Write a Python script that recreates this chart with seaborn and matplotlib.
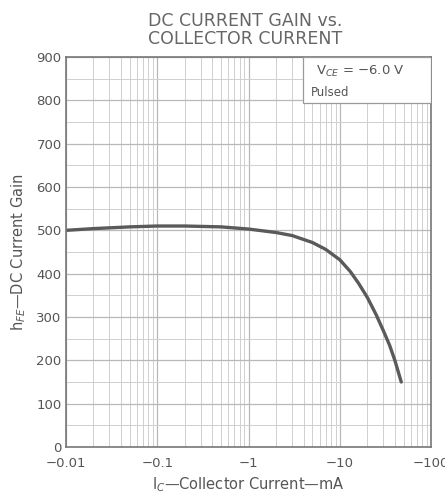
import numpy as np
import pandas as pd
import matplotlib
matplotlib.use("Agg")
import matplotlib.pyplot as plt
from matplotlib.patches import Rectangle
from matplotlib.ticker import LogLocator, FixedLocator, NullFormatter
import seaborn as sns

# values
ic_ma = [0.01, 0.02, 0.05, 0.1, 0.2, 0.5, 1, 2, 3, 5, 7, 10, 13, 16, 20, 25, 30, 35, 40, 47]
hfe = [500, 504, 508, 510, 510, 508, 503, 495, 488, 472, 456, 432, 405, 378, 345, 305, 268, 235, 200, 150]

x_ticks = [0.01, 0.1, 1, 10, 100]
x_labels = ["\u22120.01", "\u22120.1", "\u22121", "\u221210", "\u2212100"]
y_ticks = list(range(0, 1000, 100))

df = pd.DataFrame({"ic": ic_ma, "hfe": hfe})

sns.set_style("white")
plt.rcParams["font.family"] = ["DejaVu Sans"]
txt = "#555555"

fig = plt.figure(figsize=(4.45, 4.98), dpi=100)
ax = fig.add_axes([0.148, 0.1024, 0.821, 0.7831])

sns.lineplot(data=df, x="ic", y="hfe", ax=ax, color="#5a5a5a", linewidth=2.4)

ax.set_xscale("log")
ax.set_xlim(0.01, 100)
ax.set_ylim(0, 900)

ax.xaxis.set_major_locator(FixedLocator(x_ticks))
ax.set_xticklabels(x_labels)
ax.xaxis.set_minor_locator(LogLocator(base=10, subs=np.arange(2, 10)))
ax.xaxis.set_minor_formatter(NullFormatter())
ax.set_yticks(y_ticks)
ax.set_yticks(list(range(50, 900, 100)), minor=True)

ax.grid(which="major", color="#b8b8b8", linewidth=0.9)
ax.grid(which="minor", color="#cfcfcf", linewidth=0.7)
ax.tick_params(which="both", length=0, colors=txt, labelsize=9.5)
ax.tick_params(axis="x", pad=7)
ax.tick_params(axis="y", pad=3)
for s in ax.spines.values():
    s.set_color("#777777")
    s.set_linewidth(1.2)

ax.set_xlabel("I$_C$\u2014Collector Current\u2014mA", color=txt, fontsize=10.5, labelpad=4)
ax.set_ylabel("h$_{FE}$\u2014DC Current Gain", color=txt, fontsize=10.5, labelpad=6)

# condition box in the top-right corner
ax.add_patch(Rectangle((0.649, 0.882), 0.351, 0.118, transform=ax.transAxes,
                       facecolor="white", edgecolor="#999999", linewidth=0.9, zorder=3))
ax.text(0.685, 0.962, "V$_{CE}$ = \u22126.0 V", transform=ax.transAxes,
        ha="left", va="center", fontsize=9.5, color=txt, zorder=4)
ax.text(0.672, 0.91, "Pulsed", transform=ax.transAxes,
        ha="left", va="center", fontsize=8.5, color=txt, zorder=4)

fig.text(0.55, 0.975, "DC CURRENT GAIN vs.\nCOLLECTOR CURRENT", ha="center", va="top",
         fontsize=12.5, color="#666666", linespacing=1.0)

fig.savefig("out.png", dpi=100)
